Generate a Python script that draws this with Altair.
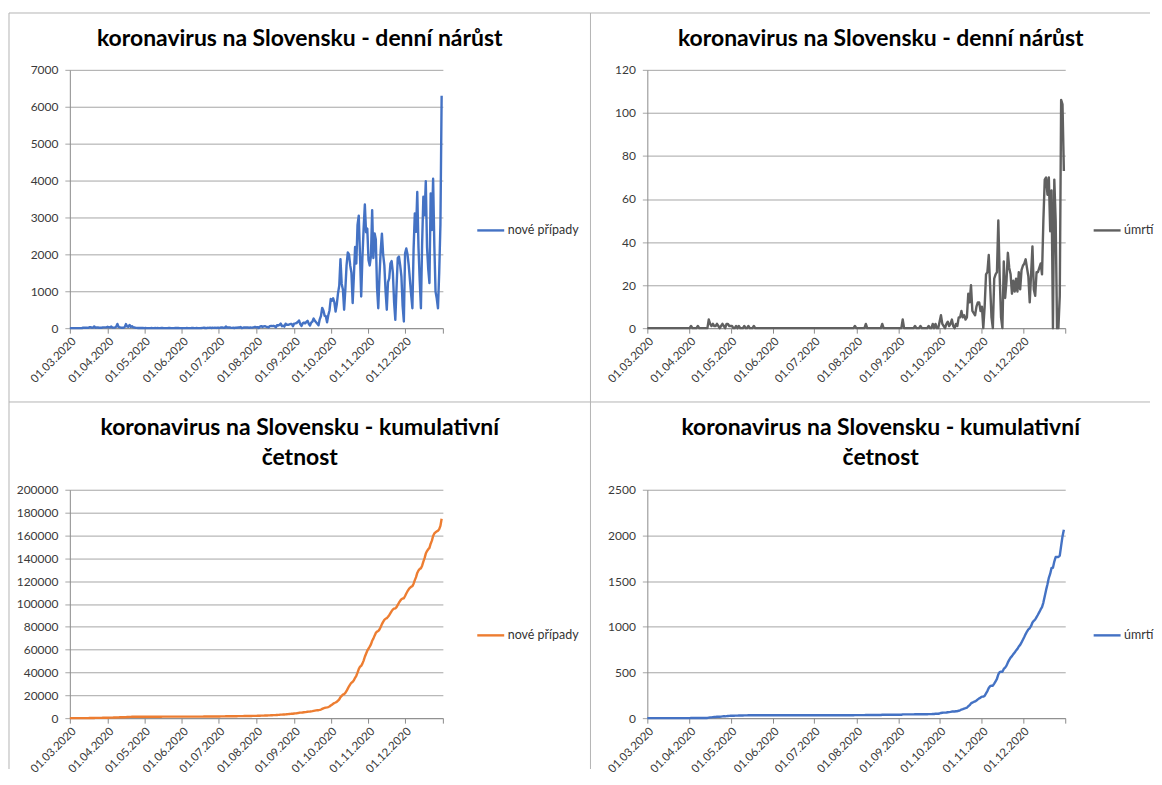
import altair as alt
import pandas as pd

# ---------------- data (daily values, 1.3.2020 - 31.12.2020) ----------------
cases_mar = [0, 0, 0, 0, 0, 1, 2, 2, 2, 0, 4, 11, 11, 11, 12, 9, 25, 25, 13, 14, 48, 12, 17, 19, 12, 10, 10, 22, 22, 22, 22]
cases_apr = [37, 24, 21, 44, 14, 14, 19, 40, 114, 33, 23, 12, 13, 12, 28, 110, 44, 40, 86, 32, 52, 23, 19, 8, 8, 5, 3, 6, 6, 5]
cases_may = [2, 4, 1, 2, 1, 0, 3, 1, 2, 4, 0, 3, 2, 1, 3, 5, 1, 0, 2, 2, 4, 3, 2, 1, 2, 3, 8, 5, 5, 2, 2]
cases_jun = [1, 0, 2, 1, 3, 2, 1, 0, 3, 5, 1, 2, 4, 1, 0, 2, 3, 9, 12, 5, 3, 10, 9, 16, 6, 11, 7, 13, 6, 12]
cases_jul = [12, 9, 19, 20, 10, 8, 45, 18, 19, 21, 13, 9, 11, 5, 15, 10, 20, 18, 30, 4, 11, 20, 19, 19, 21, 9, 18, 15, 18, 26, 36]
cases_aug = [22, 28, 7, 44, 56, 33, 48, 52, 41, 32, 18, 55, 57, 57, 64, 56, 22, 81, 70, 89, 123, 52, 65, 42, 123, 92, 91, 100, 113, 112, 52]
cases_sep = [123, 130, 140, 170, 210, 110, 60, 130, 150, 130, 170, 200, 120, 70, 150, 180, 260, 200, 160, 120, 80, 240, 330, 550, 480, 340, 320, 160, 350, 480]
cases_oct = [790, 740, 810, 700, 450, 650, 950, 1150, 1870, 1200, 1050, 500, 1050, 1700, 2050, 2000, 1700, 1500, 680, 1400, 2200, 1750, 2800, 3050, 2000, 860, 1900, 2700, 3350, 2600, 2700]
cases_nov = [1850, 1700, 1950, 3200, 1900, 2570, 2400, 1100, 540, 1400, 2100, 2560, 2000, 1700, 1000, 500, 1250, 1350, 1750, 1820, 1500, 700, 225, 1100, 1900, 1940, 1700, 1400, 600, 180]
cases_dec = [2030, 2160, 2000, 1700, 1300, 900, 540, 2160, 3110, 2610, 3690, 2200, 1300, 540, 2300, 3560, 3060, 3980, 2200, 1600, 1220, 3650, 2660, 4050, 2250, 990, 800, 540, 1500, 2800, 6300]

deaths_mar = [0, 0, 0, 0, 0, 0, 0, 0, 0, 0, 0, 0, 0, 0, 0, 0, 0, 0, 0, 0, 0, 0, 0, 0, 0, 0, 0, 0, 0, 0, 0]
deaths_apr = [0, 1, 0, 0, 0, 0, 1, 0, 0, 0, 0, 0, 0, 0, 4, 2, 1, 2, 1, 1, 2, 1, 0, 1, 2, 1, 0, 2, 2, 1]
deaths_may = [1, 1, 0, 0, 1, 0, 1, 0, 0, 0, 1, 0, 0, 1, 0, 0, 0, 1, 0, 0, 0, 0, 0, 0, 0, 0, 0, 0, 0, 0, 0]
deaths_jun = [0, 0, 0, 0, 0, 0, 0, 0, 0, 0, 0, 0, 0, 0, 0, 0, 0, 0, 0, 0, 0, 0, 0, 0, 0, 0, 0, 0, 0, 0]
deaths_jul = [0, 0, 0, 0, 0, 0, 0, 0, 0, 0, 0, 0, 0, 0, 0, 0, 0, 0, 0, 0, 0, 0, 0, 0, 0, 0, 0, 0, 0, 0, 1]
deaths_aug = [0, 0, 0, 0, 0, 0, 0, 2, 0, 0, 0, 0, 0, 0, 0, 0, 0, 0, 0, 2, 0, 0, 0, 0, 0, 0, 0, 0, 0, 0, 0]
deaths_sep = [0, 0, 0, 4, 0, 0, 0, 0, 0, 0, 0, 0, 1, 0, 0, 0, 1, 0, 0, 0, 0, 0, 1, 0, 0, 2, 0, 2, 0, 0]
deaths_oct = [3, 6, 2, 1, 0, 2, 3, 1, 2, 4, 1, 0, 2, 1, 5, 5, 8, 5, 6, 4, 5, 16, 12, 20, 8, 7, 6, 10, 12, 12, 8]
deaths_nov = [10, 0, 10, 25, 26, 34, 20, 5, 0, 23, 25, 26, 50, 24, 5, 0, 31, 14, 22, 35, 28, 25, 16, 22, 17, 23, 17, 26, 18, 27]
deaths_dec = [29, 30, 32, 28, 24, 12, 25, 38, 18, 15, 26, 26, 28, 30, 25, 50, 69, 70, 62, 70, 45, 64, 0, 69, 50, 0, 0, 15, 106, 104, 73]

cases = cases_mar + cases_apr + cases_may + cases_jun + cases_jul + cases_aug + cases_sep + cases_oct + cases_nov + cases_dec
deaths = deaths_mar + deaths_apr + deaths_may + deaths_jun + deaths_jul + deaths_aug + deaths_sep + deaths_oct + deaths_nov + deaths_dec
dates = pd.date_range("2020-03-01", "2020-12-31", freq="D").strftime("%Y-%m-%dT00:00:00").tolist()

title_daily = ["koronavirus na Slovensku - denní nárůst"]
title_cum = ["koronavirus na Slovensku - kumulativní", "četnost"]
label_cases = "nové případy"
label_deaths = "úmrtí"

# ---------------- styling ----------------
FONT = "Lato"
GRID = "#a6a6a6"
AXIS = "#8c8c8c"
LABEL = "#3a3a3a"
FRAME = "#b4b4b4"

month_ticks = [alt.DateTime(year=2020, month=m, date=1) for m in range(3, 13)] + [alt.DateTime(year=2021, month=1, date=1)]
one_row = pd.DataFrame({"k": [0]})


def panel(values, serie, color, ymax, ystep, title_lines, w, h, title_x, title_y,
          leg_x, leg_y, frame, cumulative):
    df = pd.DataFrame({"datum": dates, "hodnota": values, "serie": serie})
    base = alt.Chart(df)
    field = "hodnota"
    if cumulative:
        base = base.transform_window(kumul="sum(hodnota)", frame=[None, 0],
                                     sort=[alt.SortField("datum", order="ascending")])
        field = "kumul"
    line = base.mark_line(strokeWidth=2.4, strokeJoin="round").encode(
        x=alt.X("datum:T",
                scale=alt.Scale(domain=[month_ticks[0], month_ticks[-1]]),
                axis=alt.Axis(values=month_ticks,
                              labelExpr="year(datum.value) > 2020 ? '' : timeFormat(datum.value, '%d.%m.%Y')",
                              labelAngle=-45, labelFont=FONT, labelFontSize=11.5, labelColor=LABEL,
                              labelPadding=2, labelOverlap=False, tickSize=5, tickColor=AXIS,
                              domainColor=AXIS, grid=False, title=None)),
        y=alt.Y(f"{field}:Q",
                scale=alt.Scale(domain=[0, ymax], nice=False),
                axis=alt.Axis(values=list(range(0, ymax + 1, ystep)), format="d",
                              labelFont=FONT, labelFontSize=12, labelColor=LABEL, labelPadding=7,
                              tickSize=5, tickColor=GRID, domainColor=AXIS,
                              grid=True, gridColor=GRID, title=None)),
        color=alt.Color("serie:N", scale=alt.Scale(range=[color]),
                        legend=alt.Legend(title=None, orient="none", legendX=leg_x, legendY=leg_y,
                                          symbolType="stroke", symbolSize=729, symbolStrokeWidth=2.4,
                                          labelFont=FONT, labelFontSize=12.5, labelColor="#333333",
                                          labelOffset=2, padding=0)),
    )
    fx0, fx1, fy0, fy1 = frame
    top = alt.Chart(one_row).mark_rule(color=FRAME, strokeWidth=1).encode(
        x=alt.value(fx0), x2=alt.value(fx1), y=alt.value(fy0))
    left = alt.Chart(one_row).mark_rule(color=FRAME, strokeWidth=1).encode(
        x=alt.value(fx0), y=alt.value(fy0), y2=alt.value(fy1))
    layers = [top, left]
    n = len(title_lines)
    for i, txt in enumerate(title_lines):
        layers.append(
            alt.Chart(one_row).mark_text(font=FONT, fontSize=23, fontWeight="bold", color="#000000",
                                         align="center", baseline="alphabetic").encode(
                x=alt.value(title_x), y=alt.value(title_y - 30 * (n - 1 - i)), text=alt.value(txt))
        )
    layers.append(line)
    return alt.layer(*layers).properties(width=w, height=h)


tl = panel(cases, label_cases, "#4472c4", 7000, 1000, title_daily, 374, 259, 230.5, -24,
           407, 146, (-61, 522, -57, 333), False)
tr = panel(deaths, label_deaths, "#606060", 120, 20, title_daily, 419, 259, 234, -24,
           446, 146, (-57, 504, -57, 333), False)
bl = panel(cases, label_cases, "#ed7d31", 200000, 20000, title_cum, 374, 229, 230.5, -25,
           407, 131, (-61, 522, -88, 280), True)
br = panel(deaths, label_deaths, "#4472c4", 2500, 500, title_cum, 419, 229, 234, -25,
           446, 131, (-57, 504, -88, 280), True)

chart = (
    alt.concat(tl, tr, bl, br, columns=2, spacing={"row": 162, "column": 205},
               bounds="flush", align="each")
    .resolve_scale(color="independent")
    .resolve_legend(color="independent")
    .properties(padding={"left": 0, "top": 3, "right": 0, "bottom": 0}, background="white")
    .configure_view(stroke=None)
)

chart.save("out.html", embed_options={"renderer": "svg", "actions": False})
